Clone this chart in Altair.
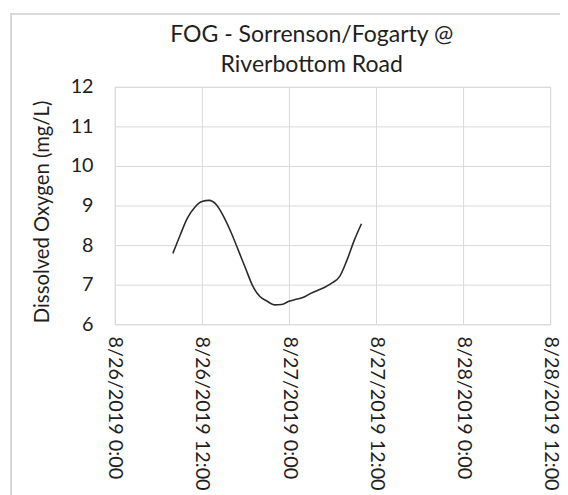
import altair as alt
import pandas as pd

# Dissolved oxygen readings (hourly)
times = [
    "2019-08-26T08:00:00Z", "2019-08-26T09:00:00Z", "2019-08-26T10:00:00Z",
    "2019-08-26T11:00:00Z", "2019-08-26T12:00:00Z", "2019-08-26T13:00:00Z",
    "2019-08-26T14:00:00Z", "2019-08-26T15:00:00Z", "2019-08-26T16:00:00Z",
    "2019-08-26T17:00:00Z", "2019-08-26T18:00:00Z", "2019-08-26T19:00:00Z",
    "2019-08-26T20:00:00Z", "2019-08-26T21:00:00Z", "2019-08-26T22:00:00Z",
    "2019-08-26T23:00:00Z", "2019-08-27T00:00:00Z", "2019-08-27T01:00:00Z",
    "2019-08-27T02:00:00Z", "2019-08-27T03:00:00Z", "2019-08-27T04:00:00Z",
    "2019-08-27T05:00:00Z", "2019-08-27T06:00:00Z", "2019-08-27T07:00:00Z",
    "2019-08-27T08:00:00Z", "2019-08-27T09:00:00Z", "2019-08-27T10:00:00Z",
]
do_mgL = [
    7.79, 8.25, 8.68, 8.95, 9.10, 9.13, 9.02, 8.72, 8.33,
    7.88, 7.42, 6.97, 6.70, 6.58, 6.49, 6.50, 6.58, 6.63,
    6.68, 6.78, 6.86, 6.94, 7.05, 7.21, 7.62, 8.12, 8.54,
]

tick_times = [
    "2019-08-26T00:00:00Z", "2019-08-26T12:00:00Z", "2019-08-27T00:00:00Z",
    "2019-08-27T12:00:00Z", "2019-08-28T00:00:00Z", "2019-08-28T12:00:00Z",
]
tick_labels = [
    "8/26/2019 0:00", "8/26/2019 12:00", "8/27/2019 0:00",
    "8/27/2019 12:00", "8/28/2019 0:00", "8/28/2019 12:00",
]
y_ticks = [6, 7, 8, 9, 10, 11, 12]

title_lines = ["FOG - Sorrenson/Fogarty @", "Riverbottom Road"]
y_title = "Dissolved Oxygen (mg/L)"

df = pd.DataFrame({"time": times, "do": do_mgL})
tick_ms = [int(pd.Timestamp(t).value // 10**6) for t in tick_times]
step = tick_ms[1] - tick_ms[0]
label_expr = (
    "[" + ",".join("'" + s + "'" for s in tick_labels) + "]"
    + f"[round((datum.value - {tick_ms[0]}) / {step})]"
)

FONT = "Lato"
TEXT = "#1f1f1f"
GRID = "#d9d9d9"

line = alt.Chart(df).mark_line(
    color="#2b2b2b", strokeWidth=1.6, interpolate="monotone"
).encode(
    x=alt.X(
        "time:T",
        scale=alt.Scale(type="utc", domain=[tick_ms[0], tick_ms[-1]]),
        axis=alt.Axis(
            values=tick_ms, labelExpr=label_expr, labelAngle=90,
            labelAlign="left", labelBaseline="middle",
            title=None, grid=True, gridColor=GRID, ticks=False, domain=False,
            labelPadding=12, labelFont=FONT, labelFontSize=20, labelColor=TEXT,
            labelOverlap=False, labelBound=False, labelFlush=False,
        ),
    ),
    y=alt.Y(
        "do:Q",
        scale=alt.Scale(domain=[6, 12], nice=False, zero=False),
        axis=alt.Axis(
            values=y_ticks, title=y_title, grid=True, gridColor=GRID,
            ticks=False, domain=False, labelPadding=22, labelFont=FONT,
            labelFontSize=20, labelColor=TEXT, titleFont=FONT,
            titleFontSize=20.5, titleFontWeight="normal", titleColor=TEXT,
            titleX=-73, titleY=126, titleAngle=270, titleBaseline="middle",
            titleAlign="center",
        ),
    ),
)

frame = alt.Chart(df).mark_rect(
    fill="white", fillOpacity=0, stroke=GRID, strokeWidth=1
).encode(
    x=alt.value(-105), x2=alt.value(470),
    y=alt.value(-74), y2=alt.value(440),
)

chart = alt.layer(frame, line).properties(
    width=440,
    height=240,
    autosize=alt.AutoSizeParams(type="none"),
    padding={"left": 108, "top": 77, "right": 10, "bottom": 175},
    title=alt.TitleParams(
        text=title_lines, font=FONT, fontSize=23.3, fontWeight="normal",
        color=TEXT, anchor="middle", lineHeight=30, dx=-21, offset=8, dy=73,
    ),
).configure_view(stroke=GRID).configure(background="white")

chart.save("out.html", embed_options={"renderer": "svg", "actions": False})
